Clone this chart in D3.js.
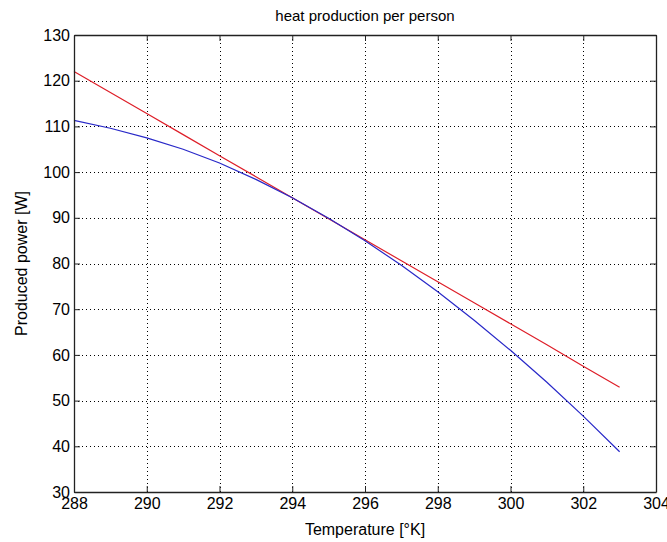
<!DOCTYPE html>
<html>
<head>
<meta charset="utf-8">
<script src="https://cdn.jsdelivr.net/npm/d3@7/dist/d3.min.js"></script>
<style>
  html, body { margin: 0; padding: 0; background: #fff; }
  svg { display: block; }
  text { font-family: "Liberation Sans Narrow", "Liberation Sans", Arial, sans-serif; fill: #000; }
</style>
</head>
<body>
<svg id="chart" width="667" height="542"></svg>
<script>
// Temperature samples [°K]
const temperature = [288, 289, 290, 291, 292, 293, 294, 295, 296, 297, 298, 299, 300, 301, 302, 303];
// Heat produced per person [W], two models
const powerRed  = [122.0, 117.4, 112.8, 108.2, 103.6, 99.0, 94.4, 89.8, 85.2, 80.6, 76.0, 71.4, 66.8, 62.2, 57.5, 52.9];
const powerBlue = [111.3, 109.6, 107.5, 105.0, 102.0, 98.4, 94.4, 89.9, 85.0, 79.6, 73.8, 67.6, 61.0, 54.0, 46.6, 38.8];
// Axis ticks
const xTicks = [288, 290, 292, 294, 296, 298, 300, 302, 304];
const yTicks = [30, 40, 50, 60, 70, 80, 90, 100, 110, 120, 130];

const title = "heat production per person";
const xLabel = "Temperature [°K]";
const yLabel = "Produced power [W]";

const plotL = 74, plotR = 656, plotT = 35, plotB = 492;
const font = "'Liberation Sans Narrow', 'Liberation Sans', Arial, sans-serif";
const svg = d3.select("#chart");

const x = d3.scaleLinear().domain([288, 304]).range([plotL, plotR]);
const y = d3.scaleLinear().domain([30, 130]).range([plotB, plotT]);

// dotted grid
const grid = svg.append("g").attr("stroke", "#000").attr("stroke-width", 1)
  .attr("stroke-dasharray", "1,3");
grid.selectAll("line.gx").data(xTicks.slice(1, -1)).join("line")
  .attr("x1", d => Math.round(x(d)) + 0.5).attr("x2", d => Math.round(x(d)) + 0.5)
  .attr("y1", plotT).attr("y2", plotB);
grid.selectAll("line.gy").data(yTicks.slice(1, -1)).join("line")
  .attr("x1", plotL).attr("x2", plotR)
  .attr("y1", d => Math.round(y(d)) + 0.5).attr("y2", d => Math.round(y(d)) + 0.5);

// data lines
const line = d3.line().x((d, i) => x(temperature[i])).y(d => y(d));
svg.append("path").datum(powerRed).attr("d", line)
  .attr("fill", "none").attr("stroke", "rgb(222,30,40)").attr("stroke-width", 1.2);
svg.append("path").datum(powerBlue).attr("d", line)
  .attr("fill", "none").attr("stroke", "rgb(40,40,200)").attr("stroke-width", 1.2);

// axes (ticks point inward, box on all sides)
const tickLen = 6;
const axB = svg.append("g").attr("transform", `translate(0,${plotB})`)
  .call(d3.axisBottom(x).tickValues(xTicks).tickSizeInner(-tickLen).tickSizeOuter(0).tickPadding(3).tickFormat(d3.format("d")));
const axT = svg.append("g").attr("transform", `translate(0,${plotT})`)
  .call(d3.axisTop(x).tickValues(xTicks).tickSizeInner(-tickLen).tickSizeOuter(0).tickFormat(""));
const axL = svg.append("g").attr("transform", `translate(${plotL},0)`)
  .call(d3.axisLeft(y).tickValues(yTicks).tickSizeInner(-tickLen).tickSizeOuter(0).tickPadding(4).tickFormat(d3.format("d")));
const axR = svg.append("g").attr("transform", `translate(${plotR},0)`)
  .call(d3.axisRight(y).tickValues(yTicks).tickSizeInner(-tickLen).tickSizeOuter(0).tickFormat(""));

[axB, axT, axL, axR].forEach(a => {
  a.select(".domain").attr("stroke", "#222").attr("stroke-width", 1.3);
  a.selectAll(".tick line").attr("stroke", "#222");
  a.selectAll(".tick text").attr("font-size", 16).attr("fill", "#000").style("font-family", font);
});
axB.selectAll(".tick text").attr("dy", "0.85em");

// title and axis labels
svg.append("text").attr("x", (plotL + plotR) / 2).attr("y", 21)
  .attr("text-anchor", "middle").attr("font-size", 15).style("font-family", font).text(title);
svg.append("text").attr("x", (plotL + plotR) / 2).attr("y", 535)
  .attr("text-anchor", "middle").attr("font-size", 16).style("font-family", font).text(xLabel);
svg.append("text").attr("transform", `translate(27,${(plotT + plotB) / 2}) rotate(-90)`)
  .attr("text-anchor", "middle").attr("font-size", 16).style("font-family", font).text(yLabel);
</script>
</body>
</html>
